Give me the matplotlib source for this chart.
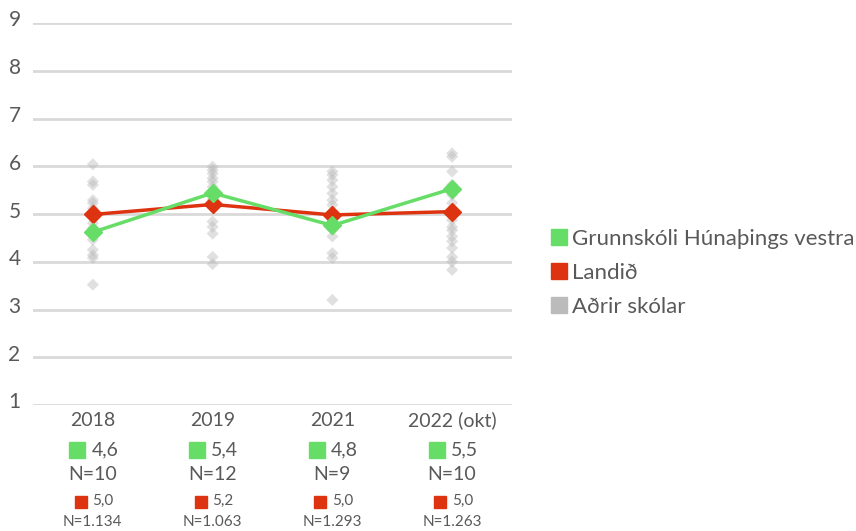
import numpy as np
import matplotlib.pyplot as plt
from matplotlib.lines import Line2D
from matplotlib.transforms import blended_transform_factory, ScaledTranslation

plt.rcParams['font.family'] = ['Lato', 'DejaVu Sans']

years = ['2018', '2019', '2021', '2022 (okt)']
school = [4.62, 5.44, 4.76, 5.53]
school_lbl = ['4,6', '5,4', '4,8', '5,5']
school_n = ['N=10', 'N=12', 'N=9', 'N=10']
land = [4.99, 5.20, 4.98, 5.05]
land_lbl = ['5,0', '5,2', '5,0', '5,0']
land_n = ['N=1.134', 'N=1.063', 'N=1.293', 'N=1.263']

others_2018 = [6.04, 5.68, 5.61, 5.29, 5.23, 5.12, 4.95, 4.81, 4.71, 4.46, 4.25, 4.14, 4.08, 3.52]
others_2019 = [5.99, 5.92, 5.85, 5.75, 5.68, 5.57, 5.47, 5.3, 5.15, 4.84, 4.73, 4.59, 4.10, 3.95]
others_2021 = [5.89, 5.82, 5.71, 5.57, 5.43, 5.29, 5.19, 5.05, 4.67, 4.53, 4.18, 4.08, 3.20]
others_2022 = [6.27, 6.20, 5.89, 5.61, 5.40, 5.23, 4.87, 4.73, 4.66, 4.53, 4.43, 4.29, 4.10, 4.00, 3.83]
others = [others_2018, others_2019, others_2021, others_2022]

green = '#66dd66'
red = '#dd3311'
grey = '#bbbbbb'
txt = '#595959'

fig = plt.figure(figsize=(8.56, 5.31), dpi=100)
ax = fig.add_axes([33/856, 126/531, 479/856, 382/531])

x = np.arange(len(years))
for i, vals in enumerate(others):
  ax.scatter(np.full(len(vals), x[i]), vals, marker='D', s=38, color=grey,
             alpha=0.45, edgecolors='none', zorder=2)

ax.plot(x, land, color=red, lw=2.5, marker='D', ms=9, zorder=4)
ax.plot(x, school, color=green, lw=2.5, marker='D', ms=9, zorder=5)

ax.set_xlim(-0.5, 3.5)
ax.set_ylim(1, 9)
ax.set_yticks(range(1, 10))
ax.grid(axis='y', color='#d9d9d9', lw=2)
ax.set_axisbelow(True)
for s in ax.spines.values():
  s.set_visible(False)
ax.tick_params(axis='y', length=0, labelsize=15, labelcolor=txt, pad=9)
up = ScaledTranslation(0, 0.045, fig.dpi_scale_trans)
for lab in ax.get_yticklabels():
  lab.set_transform(lab.get_transform() + up)
ax.set_xticks([])

tr = blended_transform_factory(ax.transData, fig.transFigure)
for i in range(len(years)):
  ax.text(x[i], 1 - 420/531, years[i], transform=tr, ha='center', va='center',
          fontsize=14, color=txt)
  ax.plot([x[i] - 0.13], [1 - 449.5/531], transform=tr, marker='s', ms=11,
          color=green, clip_on=False, ls='none')
  ax.text(x[i] + 0.1, 1 - 449.5/531, school_lbl[i], transform=tr, ha='center', va='center',
          fontsize=14, color=txt)
  ax.text(x[i], 1 - 474.5/531, school_n[i], transform=tr, ha='center', va='center',
          fontsize=14, color=txt)
  ax.plot([x[i] - 0.1], [1 - 502/531], transform=tr, marker='s', ms=9,
          color=red, clip_on=False, ls='none')
  ax.text(x[i] + 0.085, 1 - 501/531, land_lbl[i], transform=tr, ha='center', va='center',
          fontsize=11, color=txt)
  ax.text(x[i], 1 - 522/531, land_n[i], transform=tr, ha='center', va='center',
          fontsize=11, color=txt)

handles = [Line2D([], [], ls='none', marker='s', ms=11, color=c) for c in (green, red, grey)]
fig.legend(handles, ['Grunnskóli Húnaþings vestra', 'Landið', 'Aðrir skólar'],
           loc='center left', bbox_to_anchor=(528/856, 1 - 273/531), frameon=False,
           fontsize=16, labelcolor=txt, handletextpad=0.12, labelspacing=0.62,
           handlelength=0.95)

fig.savefig('out.png', dpi=100)
